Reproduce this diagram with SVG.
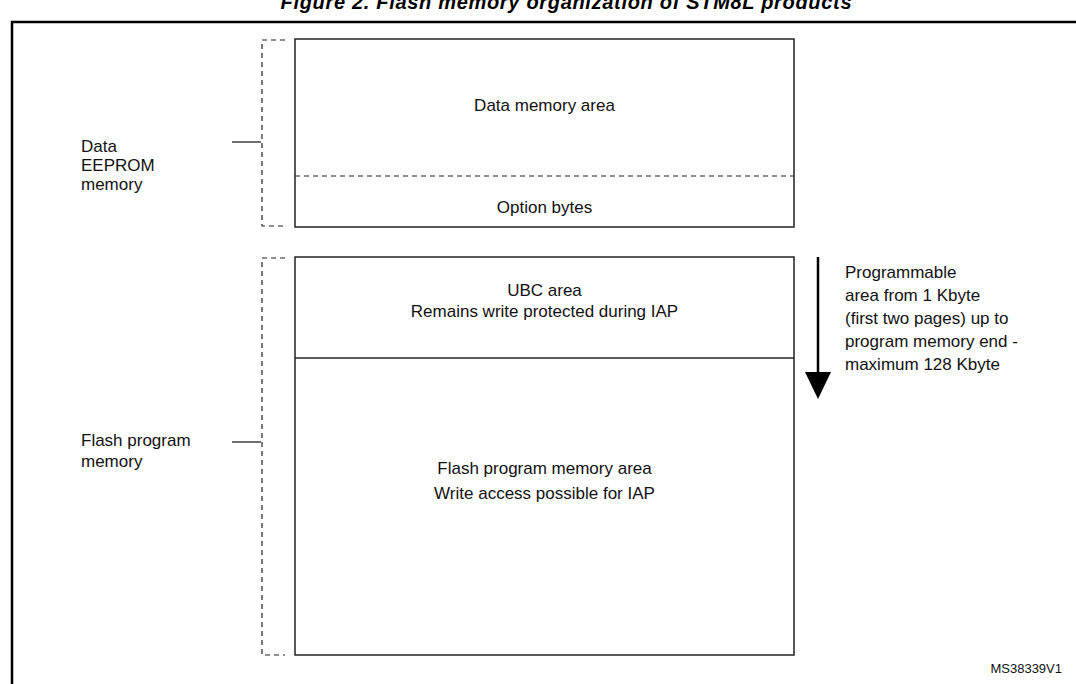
<svg xmlns="http://www.w3.org/2000/svg" width="1076" height="684" viewBox="0 0 1076 684">
<style>
.t{font-family:"Liberation Sans",Arial,sans-serif;font-size:17px;fill:#111}
.c{text-anchor:middle}
.box{fill:none;stroke:#222;stroke-width:1.5}
.dash{fill:none;stroke:#222;stroke-width:1.2;stroke-dasharray:5 4}
.lead{stroke:#222;stroke-width:1.3}
</style>
<rect width="1076" height="684" fill="#fff"/>
<text x="566" y="9" class="t c" style="font-weight:bold;font-style:italic;font-size:20px;fill:#000" textLength="571">Figure 2. Flash memory organization of STM8L products</text>
<path d="M12 684 V22 H1076" fill="none" stroke="#000" stroke-width="2.5"/>
<g id="eeprom">
<rect x="295" y="39" width="499" height="188" class="box"/>
<line x1="295" y1="176" x2="794" y2="176" class="dash"/>
<text x="544.5" y="111" class="t c">Data memory area</text>
<text x="544.5" y="213" class="t c">Option bytes</text>
</g>
<g id="flash">
<rect x="295" y="257" width="499" height="398" class="box"/>
<line x1="295" y1="358" x2="794" y2="358" class="box"/>
<text x="544.5" y="296" class="t c">UBC area</text>
<text x="544.5" y="317" class="t c">Remains write protected during IAP</text>
<text x="544.5" y="474" class="t c">Flash program memory area</text>
<text x="544.5" y="499" class="t c">Write access possible for IAP</text>
</g>
<g id="eeprom-label">
<path d="M285 40 H262 V226 H285" class="dash"/>
<text x="81" y="152" class="t">Data</text>
<text x="81" y="171" class="t">EEPROM</text>
<text x="81" y="190" class="t">memory</text>
</g>
<g id="flash-label">
<path d="M285 258 H262 V655 H285" class="dash"/>
<text x="81" y="446" class="t">Flash program</text>
<text x="81" y="467" class="t">memory</text>
</g>
<g id="prog-area">
<text x="845" y="278" class="t">Programmable</text>
<text x="845" y="301" class="t">area from 1 Kbyte</text>
<text x="845" y="324" class="t">(first two pages) up to</text>
<text x="845" y="347" class="t">program memory end -</text>
<text x="845" y="370" class="t">maximum 128 Kbyte</text>
</g>
<g id="connectors">
<line x1="232" y1="142" x2="261" y2="142" class="lead"/>
<line x1="232" y1="442" x2="261" y2="442" class="lead"/>
<line x1="818" y1="257" x2="818" y2="374" stroke="#000" stroke-width="2.5"/>
<polygon points="805,372 831,372 818,399" fill="#000"/>
</g>
<text x="1062" y="673" class="t" style="font-size:13px;text-anchor:end">MS38339V1</text>
</svg>
